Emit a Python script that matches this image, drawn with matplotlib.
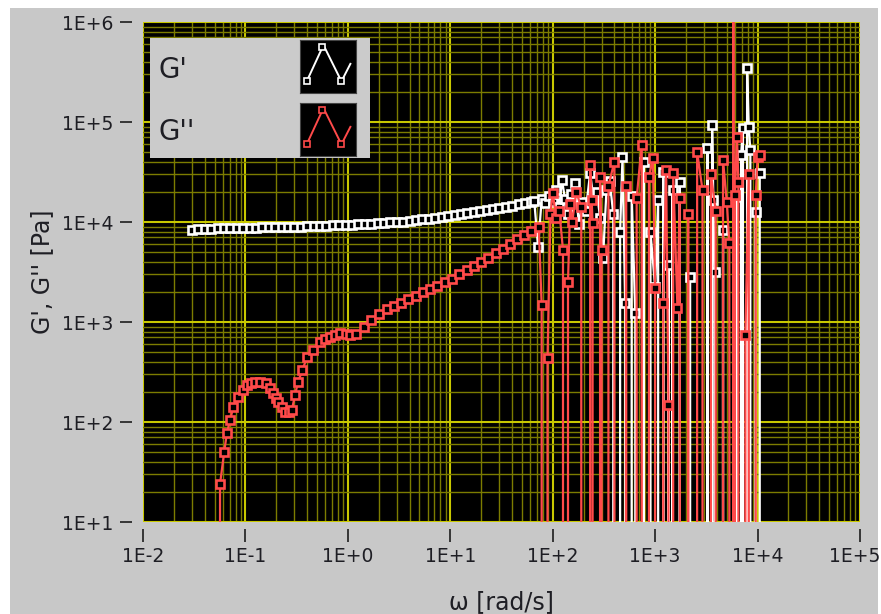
import numpy as np
import matplotlib
matplotlib.use("Agg")
import matplotlib.pyplot as plt
from matplotlib.ticker import LogLocator, FuncFormatter, NullFormatter
from matplotlib.patches import Rectangle
from matplotlib.transforms import ScaledTranslation

# Storage modulus G' (angular frequency in rad/s, modulus in Pa; -1 marks a non-positive reading)
omega_gp = [0.0300, 0.0347, 0.0400, 0.0462, 0.0534, 0.0617, 0.0712, 0.0822, 0.0950, 0.110,
            0.127, 0.146, 0.169, 0.195, 0.225, 0.260, 0.300, 0.347, 0.401, 0.463,
            0.534, 0.617, 0.713, 0.823, 0.951, 1.10, 1.27, 1.46, 1.69, 1.95,
            2.25, 2.60, 3.01, 3.47, 4.01, 4.63, 5.35, 6.18, 7.13, 8.24,
            9.51, 11.0, 12.7, 14.7, 16.9, 19.5, 22.6, 26.1, 30.1, 34.8,
            40.1, 46.4, 53.5, 61.8,
            66, 72, 78, 85, 92, 100, 108, 116, 123, 132,
            142, 152, 166, 180, 195, 210, 232, 250, 270, 290,
            310, 335, 360, 390, 420, 455, 480, 510, 545, 590,
            640, 700, 770, 830, 900, 1000, 1070, 1130, 1200, 1280,
            1350, 1420, 1480, 1600, 1740, 1900, 2190, 2500, 2900, 3240,
            3450, 3600, 3700, 3800, 4100, 4600, 5100, 5600, 6300, 6600,
            6900, 7200, 7500, 7900, 8200, 8500, 9000, 9600, 10000, 10500]
gp = [8300, 8450, 8550, 8600, 8650, 8700, 8700, 8750, 8800, 8800,
      8800, 8850, 8900, 8900, 8900, 8950, 9000, 9000, 9050, 9100,
      9150, 9200, 9250, 9300, 9350, 9400, 9450, 9500, 9600, 9700,
      9800, 9900, 10000, 10100, 10250, 10400, 10600, 10800, 11000, 11200,
      11400, 11700, 11900, 12200, 12500, 12800, 13100, 13400, 13800, 14200,
      14600, 15000, 15500, 16000,
      16300, 5600, 17000, 15500, 18000, 16000, 21000, 14000, 26300, 17000,
      12000, 19000, 24500, 9500, 16000, 13000, 30900, 17000, 20000, 11000,
      4370, 21000, 26000, 12000, -1, 8000, 44700, 1550, -1, 18000,
      1230, -1, 40000, -1, 8000, 2240, 16600, -1, 31600, -1,
      3700, -1, 20900, -1, 25100, -1, 2820, -1, -1, 55000,
      -1, 93000, 16600, 3160, -1, 8300, -1, -1, 17800, -1,
      46800, 87000, -1, 350000, 90000, 52000, -1, 12600, -1, 31000]

# Loss modulus G''
omega_gpp = [0.052, 0.0565, 0.062, 0.066, 0.071, 0.076, 0.085, 0.094, 0.104, 0.114,
             0.124, 0.14, 0.16, 0.175, 0.186, 0.2, 0.209, 0.225, 0.245, 0.265,
             0.284, 0.305, 0.326, 0.36, 0.40, 0.46, 0.53, 0.6, 0.67, 0.75,
             0.84, 0.95, 1.05, 1.2, 1.45, 1.7, 2.0, 2.4, 2.8, 3.3,
             3.9, 4.6, 5.4, 6.4, 7.5, 8.8, 10.4, 12.2, 14.4, 17,
             20, 23.5, 27.7, 32.6, 38.4, 45, 53, 62, 73,
             78, 84, 89, 95, 100, 108, 116, 126, 133, 141,
             148, 155, 170, 190, 210, 232, 240, 245, 265, 290,
             300, 320, 350, 400, 450, 520, 600, 660, 740, 800,
             870, 950, 1000, 1100, 1200, 1280, 1350, 1420, 1500, 1650,
             1740, 1900, 2100, 2300, 2570, 2900, 3200, 3500, 3900, 4200,
             4600, 5000, 5300, 5600, 5800, 5850, 6000, 6300, 6500, 7000,
             7600, 8200, 8800, 9600, 10000, 10500]
gpp = [-1, 24, 50, 78, 105, 141, 178, 210, 234, 248,
       251, 252, 245, 220, 195, 172, 158, 140, 126, 125,
       132, 186, 251, 331, 447, 525, 631, 680, 708, 740,
       776, 760, 741, 760, 900, 1050, 1200, 1350, 1450, 1550,
       1700, 1800, 2000, 2150, 2300, 2500, 2700, 3000, 3300, 3650,
       4000, 4400, 4900, 5400, 6000, 6700, 7400, 8200, 9000,
       1480, -1, 437, 12000, 19500, 11000, 13000, 5250, -1, 2500,
       15000, 10000, 20000, 14000, -1, 37000, 16600, 9800, -1, 28000,
       5250, -1, 23000, 40000, -1, 23000, -1, 17400, 59000, -1,
       28000, 43700, 2190, -1, 1550, 33000, 148, -1, 30900, 1380,
       17400, -1, 12000, -1, 50000, 21000, -1, 30000, 13000, -1,
       41700, 16000, 6200, -1, 3e7, -1, 18600, 70000, 25000, -1,
       740, 30000, -1, 18600, 44700, 47000]

series_names = ["G'", "G''"]
x_ticks = [1e-2, 1e-1, 1e0, 1e1, 1e2, 1e3, 1e4, 1e5]
y_ticks = [1e1, 1e2, 1e3, 1e4, 1e5, 1e6]

W, H = 881, 614
BG = "#c8c8c8"
TXT = "#1e1e24"
WHITE = "#ffffff"
RED = "#ff4a4a"

fig = plt.figure(figsize=(W / 100, H / 100), dpi=100, facecolor="white")
fig.patches.append(Rectangle((10 / W, 0), (878 - 10) / W, (H - 8) / H,
                             transform=fig.transFigure, facecolor=BG,
                             edgecolor="none", zorder=-10))

ax = fig.add_axes([143 / W, 1 - 522 / H, (860 - 143) / W, (522 - 22) / H])
ax.set_facecolor("black")
ax.set_xscale("log", nonpositive="clip")
ax.set_yscale("log", nonpositive="clip")
ax.set_xlim(1e-2, 1e5)
ax.set_ylim(1e1, 1e6)

ax.xaxis.set_minor_locator(LogLocator(base=10, subs=np.arange(2, 10), numticks=100))
ax.yaxis.set_minor_locator(LogLocator(base=10, subs=np.arange(2, 10), numticks=100))
ax.set_xticks(x_ticks)
ax.set_yticks(y_ticks)
fmt = FuncFormatter(lambda v, p: "1E%+d" % int(round(np.log10(v))))
ax.xaxis.set_major_formatter(fmt)
ax.yaxis.set_major_formatter(fmt)
ax.xaxis.set_minor_formatter(NullFormatter())
ax.yaxis.set_minor_formatter(NullFormatter())

ax.set_axisbelow(True)
ax.grid(which="minor", color="#7c7c00", lw=1.0)
ax.grid(which="major", color="#c8c800", lw=1.5)

for s in ax.spines.values():
    s.set_visible(False)
ax.spines["left"].set_position(("outward", 8))
ax.spines["bottom"].set_position(("outward", 5))

ax.tick_params(which="major", direction="out", length=9, width=1.3,
               color="#2a2a2a", labelsize=13.5, labelcolor=TXT, pad=4)
ax.tick_params(which="minor", length=0)

# keep the rightmost frequency label inside the canvas
last_tick = ax.xaxis.get_major_ticks()[-1]
last_tick.label1.set_transform(last_tick.label1.get_transform()
                               + ScaledTranslation(-5 / 100, 0, fig.dpi_scale_trans))

ax.set_xlabel("ω [rad/s]", fontsize=17, color=TXT, labelpad=17)
ax.set_ylabel("G', G'' [Pa]", fontsize=17, color=TXT, labelpad=6)

ax.plot(omega_gp, gp, color=WHITE, lw=1.6, marker="s", ms=6, mfc="black",
        mec=WHITE, mew=1.9, zorder=3)
ax.plot(omega_gpp, gpp, color=RED, lw=1.6, marker="s", ms=6, mfc="black",
        mec=RED, mew=1.9, zorder=4)

# legend panel with sample glyphs
lax = fig.add_axes([150 / W, 1 - 158 / H, 220 / W, 120 / H])
lax.set_facecolor("#cbcbcb")
lax.set_xticks([])
lax.set_yticks([])
for s in lax.spines.values():
    s.set_visible(False)
fig.text(158 / W, 1 - 70 / H, series_names[0], fontsize=20, color=TXT, va="center")
fig.text(158 / W, 1 - 132 / H, series_names[1], fontsize=20, color=TXT, va="center")

glyph_x = [0.12, 0.40, 0.44, 0.74, 0.90]
glyph_y = [0.22, 0.86, 0.86, 0.22, 0.55]
for top, col in ((40, WHITE), (103, RED)):
    gax = fig.add_axes([300 / W, 1 - (top + 53) / H, 56 / W, 53 / H])
    gax.set_facecolor("black")
    gax.set_xticks([])
    gax.set_yticks([])
    for s in gax.spines.values():
        s.set_edgecolor("#444444")
    gax.set_xlim(0, 1)
    gax.set_ylim(0, 1)
    gax.plot(glyph_x, glyph_y, color=col, lw=1.4)
    gax.plot([glyph_x[0], glyph_x[1], glyph_x[3]], [glyph_y[0], glyph_y[1], glyph_y[3]],
             ls="none", marker="s", ms=5, mfc="black", mec=col, mew=1.2)

fig.savefig("out.png", dpi=100, facecolor=fig.get_facecolor())
